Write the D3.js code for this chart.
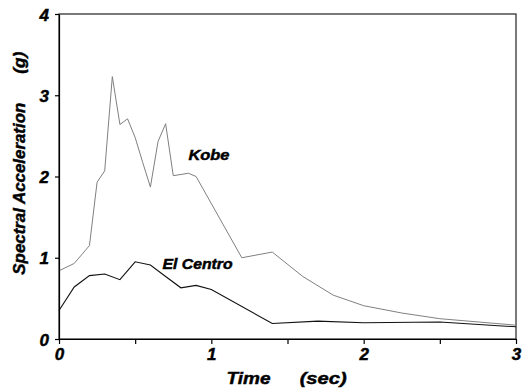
<!DOCTYPE html>
<head>
<meta charset="utf-8">
</head>
<style>
  body { margin: 0; background: #fff; }
  text { font-family: "Liberation Sans", Arial, sans-serif; font-weight: bold; font-style: italic; fill: #000; stroke: #000; stroke-width: 0.45px; }
  .axis path, .axis line { fill: none; stroke: #000; stroke-width: 1.2; }
  .axis .tick text { font-family: "Liberation Sans", Arial, sans-serif; font-size: 17px; font-style: italic; font-weight: bold; }
</style>
<body>
<script src="https://d3js.org/d3.v7.min.js"></script>
<script>

var kobeT = [0, 0.1, 0.2, 0.25, 0.3, 0.35, 0.4, 0.45, 0.5, 0.55, 0.6, 0.65, 0.7, 0.75, 0.85, 0.9, 1.2, 1.4, 1.6, 1.8, 2.0, 2.25, 2.5, 3.0]
var kobeA = [0.84, 0.93, 1.15, 1.93, 2.07, 3.23, 2.64, 2.71, 2.48, 2.17, 1.87, 2.43, 2.65, 2.01, 2.04, 2.0, 1.0, 1.07, 0.77, 0.54, 0.41, 0.32, 0.25, 0.17]

var centroT = [0, 0.1, 0.2, 0.3, 0.4, 0.5, 0.6, 0.7, 0.8, 0.9, 1.0, 1.4, 1.7, 2.0, 2.5, 3.0]
var centroA = [0.35, 0.64, 0.78, 0.80, 0.73, 0.95, 0.91, 0.77, 0.63, 0.66, 0.61, 0.19, 0.22, 0.20, 0.21, 0.15]

var xTicks = [0, 1, 2, 3]
var xMinor = [0.5, 1.5, 2.5]
var yTicks = [0, 1, 2, 3, 4]

var margin = {top: 14, right: 12, bottom: 49, left: 59},
    width = 528 - margin.left - margin.right,
    height = 388 - margin.top - margin.bottom

var x = d3.scaleLinear().domain([0, 3]).range([0, width])
var y = d3.scaleLinear().domain([0, 4]).range([height, 0])

var svg = d3.select("body").append("svg")
    .attr("width", 528)
    .attr("height", 388)
  .append("g")
    .attr("transform", "translate(" + margin.left + "," + margin.top + ")")

// frame
svg.append("rect")
    .attr("width", width)
    .attr("height", height)
    .style("fill", "none")
    .style("stroke", "#222")
    .style("stroke-width", 1.2)

var line = d3.line()
    .x(function(d) { return x(d[0]) })
    .y(function(d) { return y(d[1]) })

svg.append("path")
    .datum(d3.zip(kobeT, kobeA))
    .attr("d", line)
    .style("fill", "none")
    .style("stroke", "#808080")
    .style("stroke-width", 1)

svg.append("path")
    .datum(d3.zip(centroT, centroA))
    .attr("d", line)
    .style("fill", "none")
    .style("stroke", "#111")
    .style("stroke-width", 1.1)

// axes
svg.append("g")
    .attr("class", "x axis")
    .attr("transform", "translate(0," + height + ")")
    .call(d3.axisBottom(x).tickValues(xTicks).tickFormat(d3.format("d")).tickSize(5).tickSizeOuter(0).tickPadding(4))

svg.append("g")
    .attr("class", "x axis minor")
    .attr("transform", "translate(0," + height + ")")
    .call(d3.axisBottom(x).tickValues(xMinor).tickFormat("").tickSize(5).tickSizeOuter(0))
    .select(".domain").remove()

svg.append("g")
    .attr("class", "y axis")
    .call(d3.axisLeft(y).tickValues(yTicks).tickFormat(d3.format("d")).tickSize(4).tickSizeOuter(0).tickPadding(6))

svg.selectAll(".y.axis .tick text").attr("dy", "0.36em")

// series labels
function label(txt, xv, yv, len, size) {
  return svg.append("text")
      .attr("x", xv)
      .attr("y", yv)
      .attr("textLength", len)
      .attr("lengthAdjust", "spacingAndGlyphs")
      .style("font-size", size + "px")
      .text(txt)
}

label("Kobe", x(0.85), y(2.2), 41, 14)
label("El Centro", x(0.68), y(0.86), 70, 14)

// axis titles
label("Time", x(1.1), height + 45, 44, 17)
label("(sec)", x(1.58), height + 45, 47, 17)

svg.append("text")
    .attr("transform", "translate(-34," + y(1.85) + ") rotate(-90)")
    .attr("text-anchor", "middle")
    .attr("textLength", 172)
    .attr("lengthAdjust", "spacingAndGlyphs")
    .style("font-size", "17px")
    .text("Spectral Acceleration")

svg.append("text")
    .attr("transform", "translate(-34," + y(3.4) + ") rotate(-90)")
    .attr("text-anchor", "middle")
    .attr("textLength", 22)
    .attr("lengthAdjust", "spacingAndGlyphs")
    .style("font-size", "17px")
    .text("(g)")

</script>
</body>
